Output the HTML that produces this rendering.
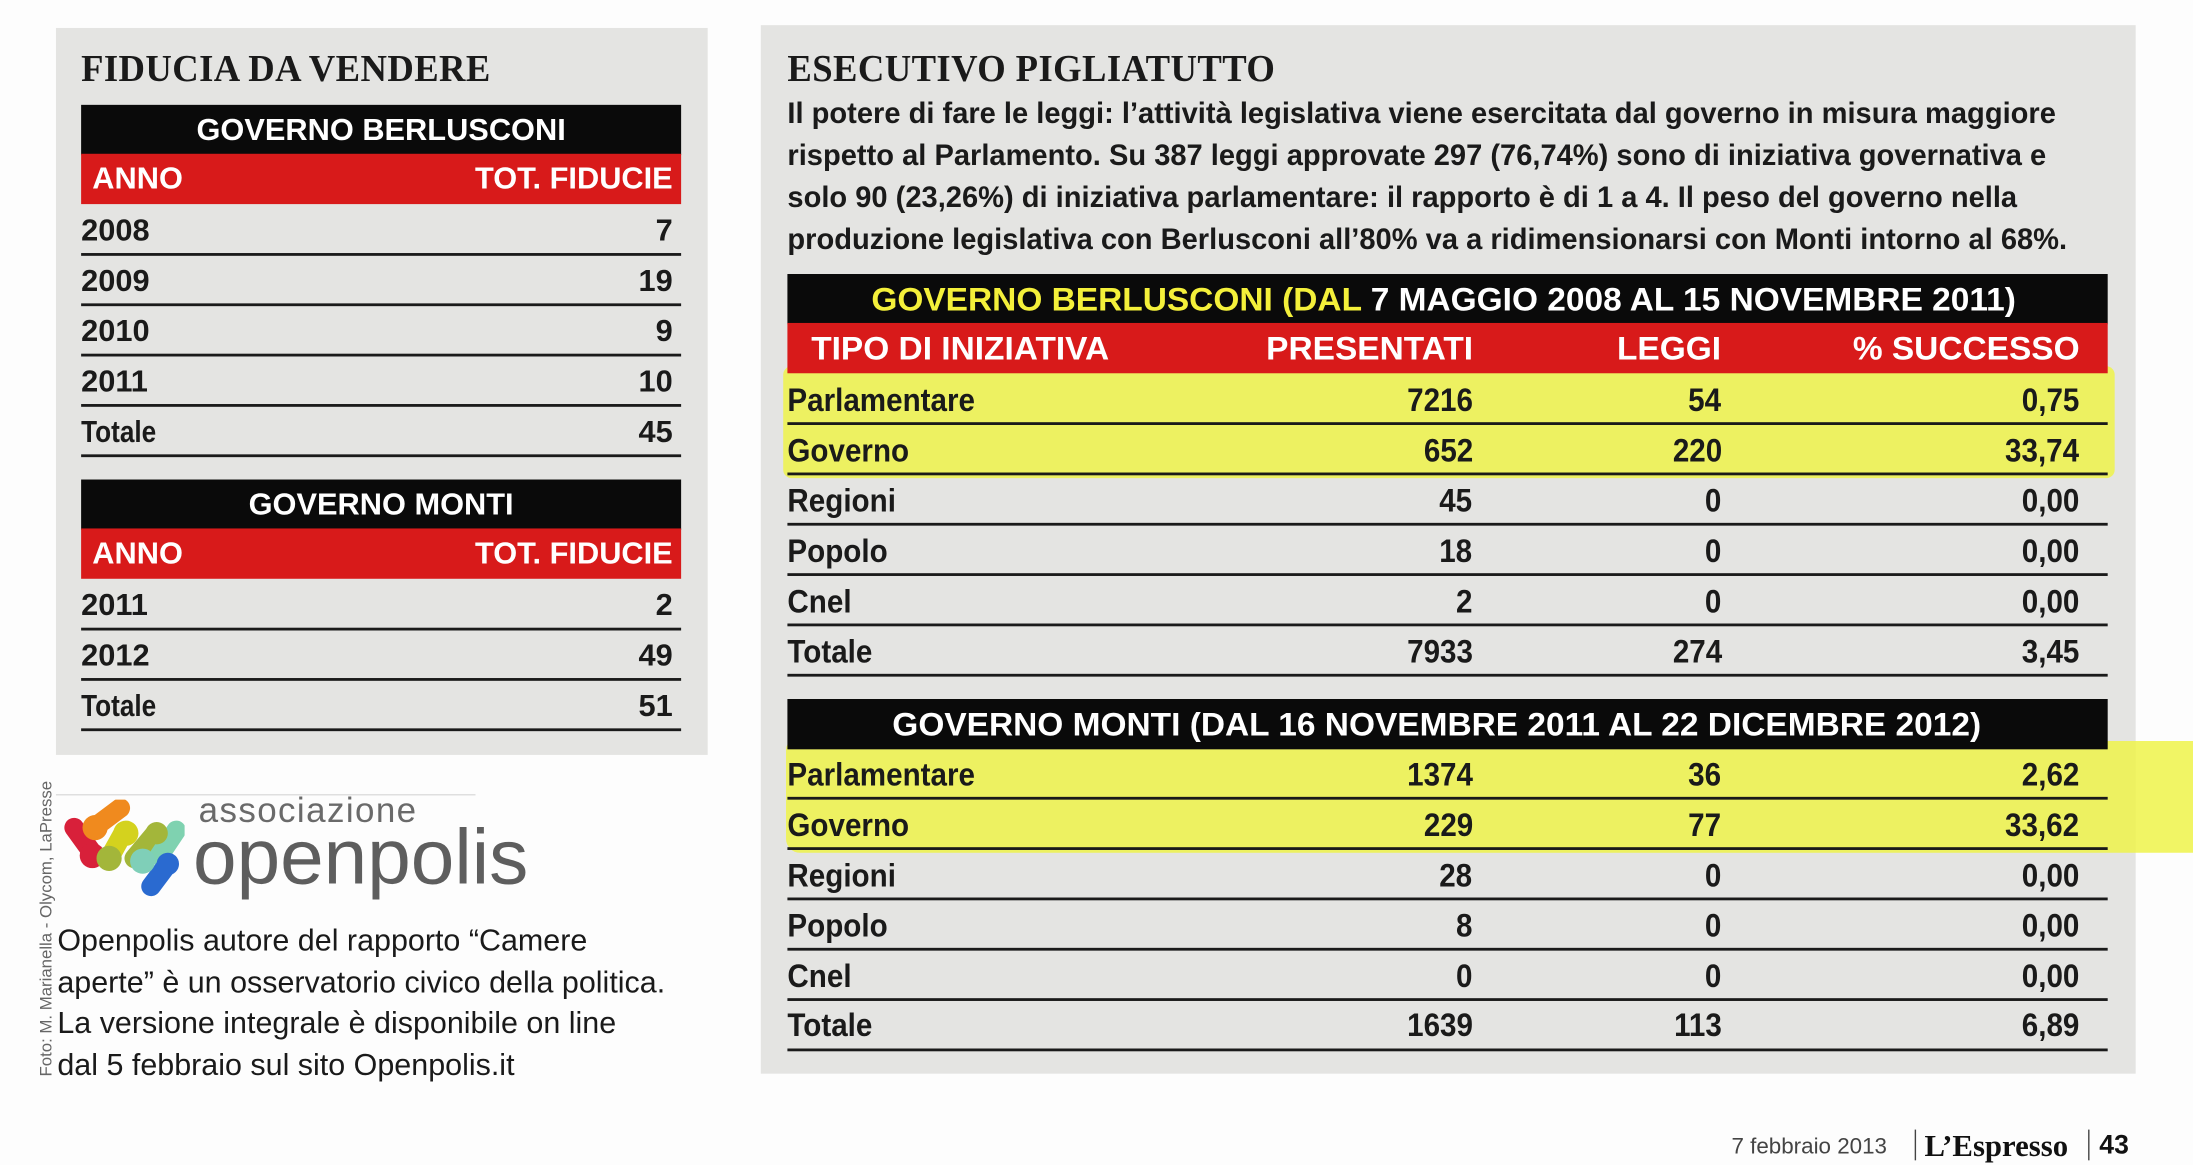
<!DOCTYPE html>
<html><head><meta charset="utf-8">
<style>
html,body{margin:0;padding:0;background:#fdfdfd;overflow:hidden;width:2193px;height:1159px}
#s{position:absolute;left:0;top:0;width:1568px;height:829px;transform:scale(1.3986,1.398);transform-origin:0 0;font-family:"Liberation Sans",sans-serif;color:#1a1a1a}
.a{position:absolute;white-space:nowrap}
.p{background:#e4e4e2}
.blk{background:#0a0a0a}
.red{background:#d81a1a}
.ln{position:absolute;height:2px;background:#1a1a1a}
.tt{font-family:"Liberation Serif",serif;font-weight:bold;font-size:27px;line-height:30px;transform:scaleX(.97);transform-origin:left;letter-spacing:0.3px}
.lt{font-weight:bold;font-size:22px;line-height:26px}
.c{font-weight:bold;font-size:23px;line-height:26px;transform:scaleX(.92);transform-origin:left center}
.cr{font-weight:bold;font-size:23px;line-height:26px;transform:scaleX(.92);transform-origin:right center}
.h{font-weight:bold;font-size:23px;line-height:26px;transform:scaleX(1.04);transform-origin:left center}
.hr{font-weight:bold;font-size:23px;line-height:26px;transform:scaleX(1.04);transform-origin:right center}
.w{color:#fff}
.y{color:#f4f03a}
.hl{position:absolute;background:#eef34a;opacity:.85}
</style></head><body><div id="s">
<!-- left panel -->
<div class="a p" style="left:40px;top:20px;width:466px;height:520px"></div>
<div class="a tt" style="left:58px;top:34px">FIDUCIA DA VENDERE</div>
<div class="a blk" style="left:58px;top:75px;width:429px;height:36px"></div>
<div class="a lt w" style="left:58px;width:429px;text-align:center;top:80px">GOVERNO BERLUSCONI</div>
<div class="a red" style="left:58px;top:110px;width:429px;height:36px"></div>
<div class="a lt w" style="left:66px;top:115px">ANNO</div>
<div class="a lt w" style="right:1087px;top:115px">TOT. FIDUCIE</div>
<div class="a lt" style="left:58px;top:152px">2008</div><div class="a lt" style="right:1087px;top:152px">7</div><div class="ln" style="left:58px;width:429px;top:181px"></div>
<div class="a lt" style="left:58px;top:188px">2009</div><div class="a lt" style="right:1087px;top:188px">19</div><div class="ln" style="left:58px;width:429px;top:217px"></div>
<div class="a lt" style="left:58px;top:224px">2010</div><div class="a lt" style="right:1087px;top:224px">9</div><div class="ln" style="left:58px;width:429px;top:253px"></div>
<div class="a lt" style="left:58px;top:260px">2011</div><div class="a lt" style="right:1087px;top:260px">10</div><div class="ln" style="left:58px;width:429px;top:289px"></div>
<div class="a lt" style="left:58px;top:296px;transform:scaleX(.85);transform-origin:left">Totale</div><div class="a lt" style="right:1087px;top:296px">45</div><div class="ln" style="left:58px;width:429px;top:325px"></div>

<div class="a blk" style="left:58px;top:343px;width:429px;height:36px"></div>
<div class="a lt w" style="left:58px;width:429px;text-align:center;top:348px">GOVERNO MONTI</div>
<div class="a red" style="left:58px;top:378px;width:429px;height:36px"></div>
<div class="a lt w" style="left:66px;top:383px">ANNO</div>
<div class="a lt w" style="right:1087px;top:383px">TOT. FIDUCIE</div>
<div class="a lt" style="left:58px;top:420px">2011</div><div class="a lt" style="right:1087px;top:420px">2</div><div class="ln" style="left:58px;width:429px;top:449px"></div>
<div class="a lt" style="left:58px;top:456px">2012</div><div class="a lt" style="right:1087px;top:456px">49</div><div class="ln" style="left:58px;width:429px;top:485px"></div>
<div class="a lt" style="left:58px;top:492px;transform:scaleX(.85);transform-origin:left">Totale</div><div class="a lt" style="right:1087px;top:492px">51</div><div class="ln" style="left:58px;width:429px;top:521px"></div>

<!-- logo -->
<div class="a" style="left:40px;top:568px;width:300px;height:1px;background:#ddd"></div>
<svg class="a" style="left:38px;top:572px" width="94" height="72" viewBox="0 0 94 72">
<g stroke-linecap="round" fill="none" stroke-width="14">
<path d="M15 20 L28 38" stroke="#d8203a"/>
<path d="M32 18 L48 6" stroke="#f08a1e"/>
<path d="M50 24 L40 42" stroke="#d4d21e"/>
<path d="M73 24 L58 42" stroke="#a3b63a"/>
<path d="M88 22 L76 40" stroke="#7fd2b0"/>
<path d="M82 46 L70 62" stroke="#2a6ad0"/>
</g>
<circle cx="28" cy="40" r="9" fill="#d8203a"/><circle cx="30" cy="20" r="9" fill="#f08a1e"/><circle cx="52" cy="24" r="9" fill="#d4d21e"/><circle cx="40" cy="42" r="9" fill="#a3b63a"/><circle cx="74" cy="24" r="8" fill="#a3b63a"/><circle cx="64" cy="44" r="9" fill="#7fcfb8"/><circle cx="82" cy="46" r="8" fill="#2a6ad0"/>
</svg>
<div class="a" style="left:142px;top:566px;font-size:25px;color:#6a6a6a;letter-spacing:1px">associazione</div>
<div class="a" style="left:138px;top:582px;font-size:56px;color:#5e5e5e;line-height:62px">openpolis</div>
<div class="a" style="left:41px;top:658px;font-size:22px;line-height:29.7px;color:#1a1a1a;transform:scaleX(.99);transform-origin:left;white-space:normal;width:520px">Openpolis autore del rapporto “Camere<br>aperte” è un osservatorio civico della politica.<br>La versione integrale è disponibile on line<br>dal 5 febbraio sul sito Openpolis.it</div>
<div class="a" style="left:26px;top:770px;font-size:12px;color:#666;transform:rotate(-90deg);transform-origin:0 0">Foto: M. Marianella - Olycom, LaPresse</div>

<!-- right panel -->
<div class="a p" style="left:544px;top:18px;width:983px;height:750px"></div>
<div class="a tt" style="left:563px;top:34px">ESECUTIVO PIGLIATUTTO</div>
<div class="a c" style="left:563px;top:69px;font-size:21px;transform:scaleX(.99)">Il potere di fare le leggi: l’attività legislativa viene esercitata dal governo in misura maggiore</div>
<div class="a c" style="left:563px;top:99px;font-size:21px;transform:scaleX(.99)">rispetto al Parlamento. Su 387 leggi approvate 297 (76,74%) sono di iniziativa governativa e</div>
<div class="a c" style="left:563px;top:129px;font-size:21px;transform:scaleX(.99)">solo 90 (23,26%) di iniziativa parlamentare: il rapporto è di 1 a 4. Il peso del governo nella</div>
<div class="a c" style="left:563px;top:159px;font-size:21px;transform:scaleX(.99)">produzione legislativa con Berlusconi all’80% va a ridimensionarsi con Monti intorno al 68%.</div>

<div class="hl" style="left:560px;top:262px;width:952px;height:80px;border-radius:6px"></div>
<div class="hl" style="left:562px;top:530px;width:1006px;height:80px;border-radius:6px 0 0 10px"></div>

<div class="a blk" style="left:563px;top:196px;width:944px;height:36px"></div>
<div class="a h" style="left:623px;top:201px"><span class="y">GOVERNO BERLUSCONI (DAL</span> <span class="w">7 MAGGIO 2008 AL 15 NOVEMBRE 2011)</span></div>
<div class="a red" style="left:563px;top:231px;width:944px;height:36px"></div>
<div class="a h w" style="left:580px;top:236px">TIPO DI INIZIATIVA</div>
<div class="a hr w" style="right:515px;top:236px">PRESENTATI</div>
<div class="a hr w" style="right:337px;top:236px">LEGGI</div>
<div class="a hr w" style="right:81px;top:236px">% SUCCESSO</div>

<div class="a c" style="left:563px;top:273px">Parlamentare</div><div class="a cr" style="right:515px;top:273px">7216</div><div class="a cr" style="right:337px;top:273px">54</div><div class="a cr" style="right:81px;top:273px">0,75</div><div class="ln" style="left:563px;width:944px;top:302px"></div>
<div class="a c" style="left:563px;top:309px">Governo</div><div class="a cr" style="right:515px;top:309px">652</div><div class="a cr" style="right:337px;top:309px">220</div><div class="a cr" style="right:81px;top:309px">33,74</div><div class="ln" style="left:563px;width:944px;top:338px"></div>
<div class="a c" style="left:563px;top:345px">Regioni</div><div class="a cr" style="right:515px;top:345px">45</div><div class="a cr" style="right:337px;top:345px">0</div><div class="a cr" style="right:81px;top:345px">0,00</div><div class="ln" style="left:563px;width:944px;top:374px"></div>
<div class="a c" style="left:563px;top:381px">Popolo</div><div class="a cr" style="right:515px;top:381px">18</div><div class="a cr" style="right:337px;top:381px">0</div><div class="a cr" style="right:81px;top:381px">0,00</div><div class="ln" style="left:563px;width:944px;top:410px"></div>
<div class="a c" style="left:563px;top:417px">Cnel</div><div class="a cr" style="right:515px;top:417px">2</div><div class="a cr" style="right:337px;top:417px">0</div><div class="a cr" style="right:81px;top:417px">0,00</div><div class="ln" style="left:563px;width:944px;top:446px"></div>
<div class="a c" style="left:563px;top:453px">Totale</div><div class="a cr" style="right:515px;top:453px">7933</div><div class="a cr" style="right:337px;top:453px">274</div><div class="a cr" style="right:81px;top:453px">3,45</div><div class="ln" style="left:563px;width:944px;top:482px"></div>

<div class="a blk" style="left:563px;top:500px;width:944px;height:36px"></div>
<div class="a h w" style="left:638px;top:505px">GOVERNO MONTI (DAL 16 NOVEMBRE 2011 AL 22 DICEMBRE 2012)</div>

<div class="a c" style="left:563px;top:541px">Parlamentare</div><div class="a cr" style="right:515px;top:541px">1374</div><div class="a cr" style="right:337px;top:541px">36</div><div class="a cr" style="right:81px;top:541px">2,62</div><div class="ln" style="left:563px;width:944px;top:570px"></div>
<div class="a c" style="left:563px;top:577px">Governo</div><div class="a cr" style="right:515px;top:577px">229</div><div class="a cr" style="right:337px;top:577px">77</div><div class="a cr" style="right:81px;top:577px">33,62</div><div class="ln" style="left:563px;width:944px;top:606px"></div>
<div class="a c" style="left:563px;top:613px">Regioni</div><div class="a cr" style="right:515px;top:613px">28</div><div class="a cr" style="right:337px;top:613px">0</div><div class="a cr" style="right:81px;top:613px">0,00</div><div class="ln" style="left:563px;width:944px;top:642px"></div>
<div class="a c" style="left:563px;top:649px">Popolo</div><div class="a cr" style="right:515px;top:649px">8</div><div class="a cr" style="right:337px;top:649px">0</div><div class="a cr" style="right:81px;top:649px">0,00</div><div class="ln" style="left:563px;width:944px;top:678px"></div>
<div class="a c" style="left:563px;top:685px">Cnel</div><div class="a cr" style="right:515px;top:685px">0</div><div class="a cr" style="right:337px;top:685px">0</div><div class="a cr" style="right:81px;top:685px">0,00</div><div class="ln" style="left:563px;width:944px;top:714px"></div>
<div class="a c" style="left:563px;top:720px">Totale</div><div class="a cr" style="right:515px;top:720px">1639</div><div class="a cr" style="right:337px;top:720px">113</div><div class="a cr" style="right:81px;top:720px">6,89</div><div class="ln" style="left:563px;width:944px;top:750px"></div>

<!-- footer -->
<div class="a" style="left:1238px;top:812px;font-size:16px;color:#444">7 febbraio 2013</div>
<div class="a" style="left:1369px;top:808px;width:1px;height:22px;background:#444"></div>
<div class="a" style="left:1376px;top:807px;font-family:'Liberation Serif',serif;font-weight:bold;font-size:22px;color:#111">L’Espresso</div>
<div class="a" style="left:1493px;top:808px;width:1px;height:22px;background:#444"></div>
<div class="a" style="left:1501px;top:809px;font-weight:bold;font-size:19px;color:#111">43</div>
</div></body></html>
